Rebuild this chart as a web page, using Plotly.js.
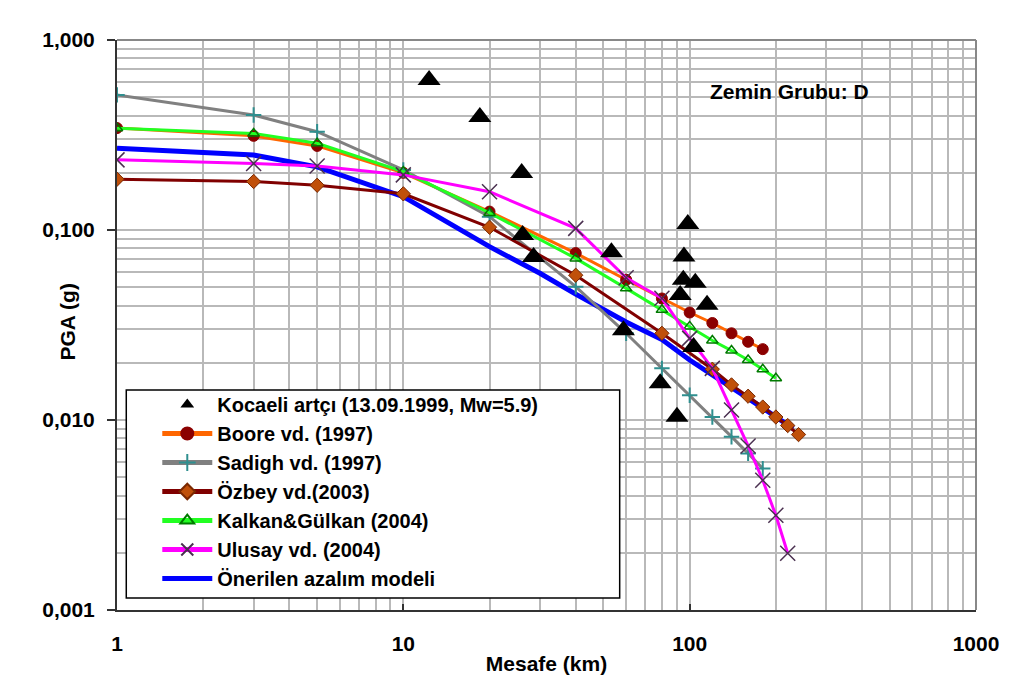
<!DOCTYPE html>
<html>
<head>
<meta charset="utf-8">
<script src="https://cdn.plot.ly/plotly-3.0.1.min.js"></script>
<style>html,body{margin:0;padding:0;background:#fff;}#chart{width:1024px;height:694px;}</style>
</head>
<body>
<div id="chart"></div>
<script>
// ---- data ----
const kocaeliX = [12.3, 18.5, 25.9, 26.1, 28.5, 53.3, 58.7, 78.9, 90.3, 98.5, 95.5, 95, 104.6, 92.7, 115, 103.2];
const kocaeliY = [0.616, 0.393, 0.1995, 0.0941, 0.0722, 0.0763, 0.0297, 0.0156, 0.0104, 0.1076, 0.0725, 0.0547, 0.0527, 0.0455, 0.0404, 0.0242];

const booreX = [1, 3, 5, 10, 20, 40, 60, 80, 100, 120, 140, 160, 180];
const booreY = [0.344, 0.313, 0.277, 0.200, 0.125, 0.0756, 0.0547, 0.0436, 0.0368, 0.0324, 0.0286, 0.0258, 0.0236];

const sadighX = [1, 3, 5, 10, 20, 40, 60, 80, 100, 120, 140, 160, 180];
const sadighY = [0.514, 0.403, 0.329, 0.207, 0.1175, 0.0503, 0.0286, 0.0187, 0.0135, 0.01037, 0.00817, 0.00667, 0.00555];

const ozbeyX = [1, 3, 5, 10, 20, 40, 80, 120, 140, 160, 180, 200, 220, 240];
const ozbeyY = [0.185, 0.180, 0.172, 0.155, 0.1034, 0.0578, 0.0286, 0.0185, 0.0153, 0.01334, 0.0117, 0.01037, 0.00935, 0.00838];

const kalkanX = [1, 3, 5, 10, 20, 40, 60, 80, 100, 120, 140, 160, 180, 200];
const kalkanY = [0.343, 0.322, 0.286, 0.203, 0.123, 0.0709, 0.0493, 0.038, 0.0311, 0.0262, 0.0232, 0.0207, 0.0185, 0.0166];

const ulusayX = [1, 3, 5, 10, 20, 40, 60, 80, 100, 120, 140, 160, 180, 200, 220];
const ulusayY = [0.234, 0.224, 0.217, 0.195, 0.159, 0.102, 0.056, 0.0437, 0.0269, 0.0187, 0.0113, 0.0073, 0.00482, 0.00315, 0.00199];

const onerilenX = [1, 3, 5, 10, 20, 30, 40, 60, 80, 100, 120, 140, 160, 180, 200, 220, 230];
const onerilenY = [0.269, 0.248, 0.215, 0.1497, 0.0817, 0.0592, 0.046, 0.0328, 0.0265, 0.0207, 0.01725, 0.0147, 0.0130, 0.01156, 0.01037, 0.00942, 0.0090];

const seriesNames = ['Kocaeli artçı (13.09.1999, Mw=5.9)', 'Boore vd. (1997)', 'Sadigh vd. (1997)', 'Özbey vd.(2003)', 'Kalkan&Gülkan (2004)', 'Ulusay vd. (2004)', 'Önerilen azalım modeli'];

const xTickVals = [1, 10, 100, 1000];
const xTickText = ['1', '10', '100', '1000'];
const yTickVals = [0.001, 0.01, 0.1, 1];
const yTickText = ['0,001', '0,010', '0,100', '1,000'];
const xMinor = [2,3,4,5,6,7,8,9,20,30,40,50,60,70,80,90,200,300,400,500,600,700,800,900];
const yMinor = [0.002,0.003,0.004,0.005,0.006,0.007,0.008,0.009,0.02,0.03,0.04,0.05,0.06,0.07,0.08,0.09,0.2,0.3,0.4,0.5,0.6,0.7,0.8,0.9];

const annotationText = 'Zemin Grubu: D';
const xTitle = 'Mesafe (km)';
const yTitle = 'PGA (g)';

// ---- chart ----
const FONT = 'Arial, "Liberation Sans", sans-serif';
const GRID = '#b9b9b9';

// drawing order: blue model line first, observed triangles last; legend order via legendrank
const traces = [
  {x: onerilenX, y: onerilenY, name: seriesNames[6], mode: 'lines', type: 'scatter', legendrank: 7,
   line: {color: '#0000ff', width: 5}},
  {x: booreX, y: booreY, name: seriesNames[1], mode: 'lines+markers', type: 'scatter', legendrank: 2,
   line: {color: '#ff6600', width: 3},
   marker: {symbol: 'circle', size: 11, color: '#8b0000', line: {color: '#8b0000', width: 1}}},
  {x: sadighX, y: sadighY, name: seriesNames[2], mode: 'lines+markers', type: 'scatter', legendrank: 3,
   line: {color: '#808080', width: 3},
   marker: {symbol: 'cross-thin', size: 11, color: '#2f8f8f', line: {color: '#2f8f8f', width: 2}}},
  {x: ozbeyX, y: ozbeyY, name: seriesNames[3], mode: 'lines+markers', type: 'scatter', legendrank: 4,
   line: {color: '#800000', width: 3},
   marker: {symbol: 'diamond', size: 11, color: '#c0500a', line: {color: '#7a2800', width: 1}}},
  {x: kalkanX, y: kalkanY, name: seriesNames[4], mode: 'lines+markers', type: 'scatter', legendrank: 5,
   line: {color: '#22ff22', width: 3},
   marker: {symbol: 'triangle-up-open', size: 10, color: '#007a00', line: {color: '#007a00', width: 1.5}}},
  {x: ulusayX, y: ulusayY, name: seriesNames[5], mode: 'lines+markers', type: 'scatter', legendrank: 6,
   line: {color: '#ff00ff', width: 3},
   marker: {symbol: 'x-thin', size: 15, color: '#4a3050', line: {color: '#4a3050', width: 1.5}}},
  {x: kocaeliX, y: kocaeliY, name: seriesNames[0], mode: 'markers', type: 'scatter', legendrank: 1,
   marker: {symbol: 'triangle-up', size: 20, color: '#000000'}}
];

const tickFont = {family: FONT, size: 21, color: '#000', weight: 'bold'};

const layout = {
  width: 1024, height: 694,
  margin: {l: 117, r: 48, t: 40, b: 84},
  paper_bgcolor: '#ffffff', plot_bgcolor: '#ffffff',
  font: {family: FONT, color: '#000'},
  showlegend: true,
  xaxis: {
    type: 'log', range: [0, 3], tickmode: 'array', tickvals: xTickVals, ticktext: xTickText,
    ticks: 'inside', ticklen: 6, tickwidth: 2, tickcolor: '#333',
    showline: true, linecolor: '#333', linewidth: 2, mirror: false, zeroline: false,
    showgrid: true, gridcolor: GRID, gridwidth: 2,
    minor: {tickvals: xMinor, showgrid: true, gridcolor: GRID, gridwidth: 2, ticks: ''},
    tickfont: tickFont, ticklabelstandoff: 14,
    title: {text: xTitle, font: {family: FONT, size: 21, color: '#000', weight: 'bold'}, standoff: 2}
  },
  yaxis: {
    type: 'log', range: [-3, 0], tickmode: 'array', tickvals: yTickVals, ticktext: yTickText,
    ticks: 'outside', ticklen: 8, tickwidth: 2, tickcolor: '#333',
    showline: true, linecolor: '#333', linewidth: 2, mirror: false, zeroline: false,
    showgrid: true, gridcolor: GRID, gridwidth: 2,
    minor: {tickvals: yMinor, showgrid: true, gridcolor: GRID, gridwidth: 2, ticks: ''},
    tickfont: tickFont, ticklabelstandoff: 8
  },
  legend: {
    x: 0.0469, y: 0.3947, xanchor: 'left', yanchor: 'top',
    bgcolor: 'rgba(0,0,0,0)', borderwidth: 0,
    font: {family: FONT, size: 20, color: '#000', weight: 'bold'},
    itemwidth: 50, itemsizing: 'constant', tracegroupgap: 0, traceorder: 'normal'
  },
  shapes: [
    {type: 'rect', xref: 'paper', yref: 'paper', x0: 0.0108, x1: 0.5852, y0: 0.021, y1: 0.386,
     fillcolor: '#ffffff', line: {color: '#000', width: 1.5}, layer: 'above'},
    {type: 'line', xref: 'paper', yref: 'paper', x0: 0, x1: 1, y0: 1, y1: 1, line: {color: '#888', width: 2}},
    {type: 'line', xref: 'paper', yref: 'paper', x0: 1, x1: 1, y0: 0, y1: 1, line: {color: '#888', width: 2}}
  ],
  annotations: [
    {text: annotationText, xref: 'paper', yref: 'paper', x: 0.688, y: 0.909, xanchor: 'left', yanchor: 'middle',
     showarrow: false, font: {family: FONT, size: 21, color: '#000', weight: 'bold'}},
    {text: yTitle, xref: 'paper', yref: 'paper', x: -0.0578, y: 0.505, xanchor: 'center', yanchor: 'middle',
     textangle: -90, showarrow: false, font: {family: FONT, size: 21, color: '#000', weight: 'bold'}}
  ]
};

Plotly.newPlot('chart', traces, layout, {displayModeBar: false, staticPlot: true});
</script>
</body>
</html>
